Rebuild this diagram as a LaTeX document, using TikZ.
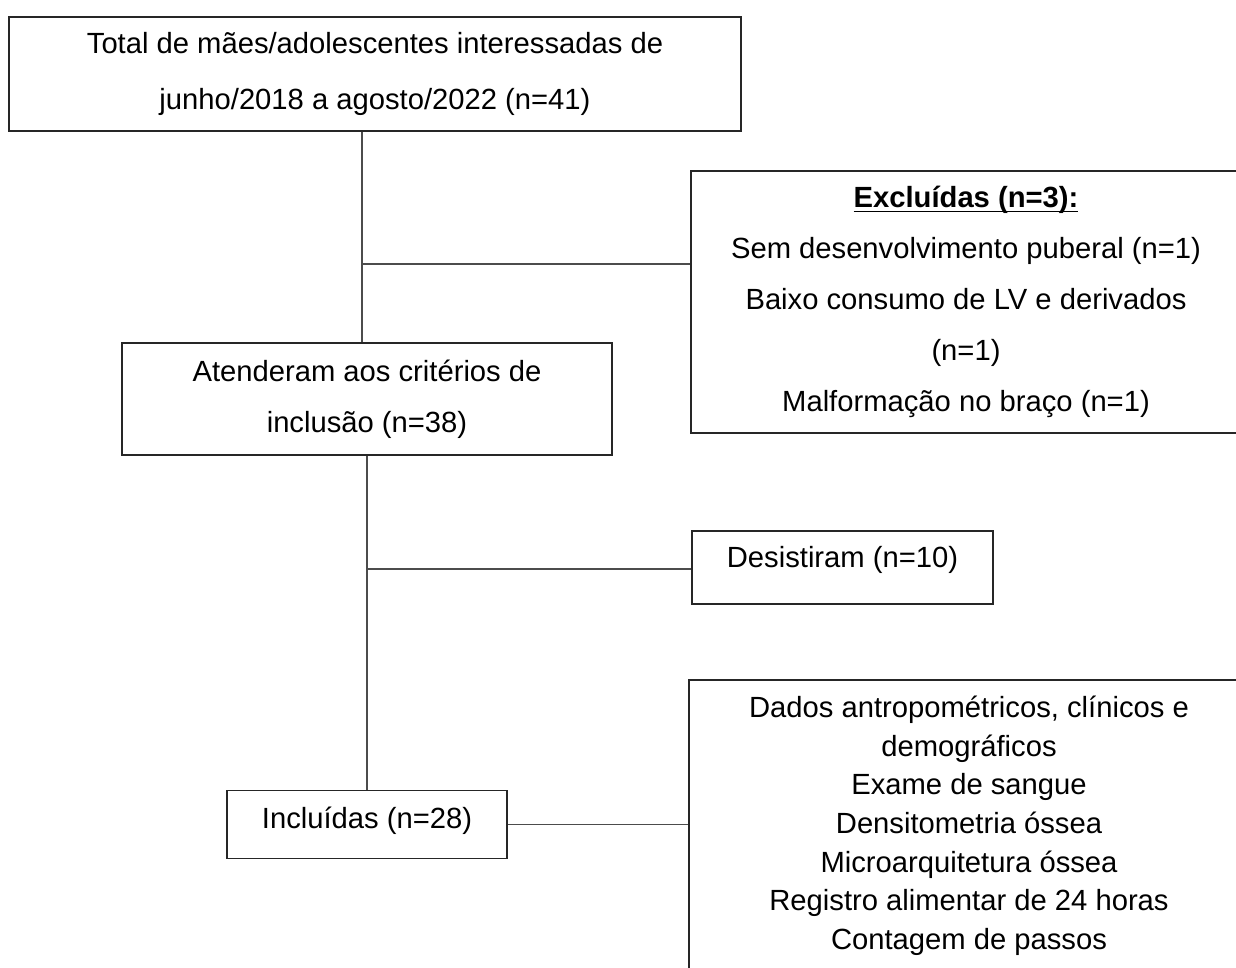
\documentclass[tikz,border=0pt]{standalone}
\usepackage{fontspec}
\setmainfont{Liberation Sans}
\usepackage{tikz}
\newcommand{\undl}[1]{\setbox0\hbox{#1}\rlap{\rule[-2.4pt]{\wd0}{0.8pt}}\box0}

\begin{document}
\begin{tikzpicture}
[x=0.5pt,y=-0.5pt
,box/.style={draw=black!85,line width=0.9pt,align=center,inner sep=0pt,font=\fontsize{14.6pt}{25.5pt}\selectfont}
,wide/.style={box,font=\fontsize{14.6pt}{28pt}\selectfont}
,conn/.style={draw=black!70,line width=0.9pt}]
\useasboundingbox (0,0) rectangle (1236,968);

\node[wide,minimum width=366pt,minimum height=57pt] (total) at (375,74)
  {Total de mães/adolescentes interessadas de\\junho/2018 a agosto/2022 (n=41)};
\node[box,minimum width=245pt,minimum height=56pt] (crit) at (367,399)
  {Atenderam aos critérios de\\inclusão (n=38)};
\node[box,minimum width=275pt,minimum height=131pt] (excl) at (966,302)
  {\undl{\textbf{Excluídas (n=3):}}\\Sem desenvolvimento puberal (n=1)\\Baixo consumo de LV e derivados\\(n=1)\\Malformação no braço (n=1)};
\node[box,minimum width=150.5pt,minimum height=36.5pt,text height=10pt,text depth=10pt] (desist) at (842.5,567.5)
  {Desistiram (n=10)};
\node[box,minimum width=140pt,minimum height=34pt,text height=10pt,text depth=6.5pt] (incl) at (367,824.5)
  {Incluídas (n=28)};
\node[box,anchor=north,inner ysep=8pt] (dados) at (969,679)
  {\parbox[c][200pt][t]{280pt}{\centering\fontsize{14.6pt}{19.35pt}\selectfont
   Dados antropométricos, clínicos e\\demográficos\\Exame de sangue\\Densitometria óssea\\Microarquitetura óssea\\Registro alimentar de 24 horas\\Contagem de passos}};

\coordinate (j1) at (362,264);
\coordinate (j2) at (367,569);

\draw[conn] (total.south -| j1) -- (crit.north -| j1);
\draw[conn] (j1) -- (j1 -| excl.west);
\draw[conn] (crit.south -| j2) -- (incl.north -| j2);
\draw[conn] (j2) -- (j2 -| desist.west);
\draw[conn] (incl.east) -- (incl.east -| dados.west);
\end{tikzpicture}
\end{document}
